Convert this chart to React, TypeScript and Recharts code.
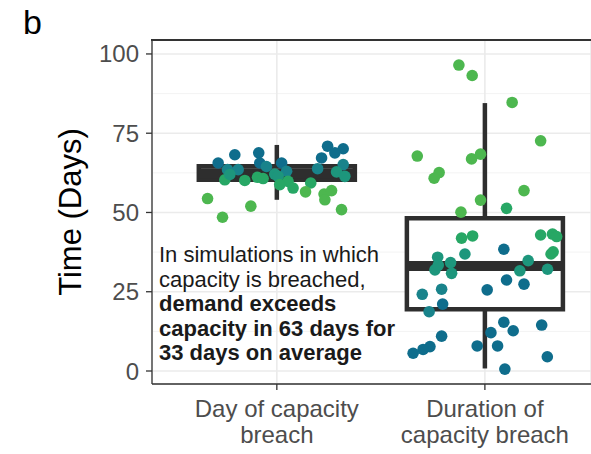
import React from 'react'
import {
  ComposedChart,
  Scatter,
  XAxis,
  YAxis,
  CartesianGrid,
  ReferenceArea,
  ReferenceLine,
  Label,
} from 'recharts'

const FONT = '"Liberation Sans", Arial, sans-serif'

// x positions: category index + horizontal jitter
const categories = ['Day of capacity\nbreach', 'Duration of\ncapacity breach']
const yTicks = [0, 25, 50, 75, 100]
const yMinor = [12.5, 37.5, 62.5, 87.5]

// day of breach, one point per simulation
const breachDay = [
  54.4, 48.5, 52, 68.2, 68.8, 65.6, 63.5, 63.5, 60.3, 60.1, 61.1, 60.7, 65.6, 64.5, 62.1, 62,
  70.9, 70.1, 68.8, 67.2, 63.8, 65.1, 62.8, 61.4, 65.6, 63, 61.4, 59.8, 58.8, 57.7, 59.3, 56.5,
  55.8, 56.9, 54, 50.9,
]
const breachDayJitter = [
  -0.333, -0.261, -0.125, -0.202, -0.087, -0.282, -0.237, -0.186, -0.25, -0.154, -0.093, -0.066,
  -0.082, -0.05, -0.01, -0.226, 0.244, 0.319, 0.279, 0.215, 0.196, 0.319, 0.287, 0.327, 0.023,
  0.047, 0.006, 0.054, 0.014, 0.078, 0.163, 0.138, 0.227, 0.263, 0.231, 0.311,
]
const breachDayGroup = [
  0, 0, 0, 4, 4, 4, 3, 3, 1, 1, 1, 1, 4, 3, 2, 2, 4, 4, 4, 4, 3, 3, 2, 2, 4, 3, 2, 1, 1, 1, 1, 0,
  0, 0, 0, 0,
]

// duration of breach, one point per simulation
const breachDuration = [
  96.5, 93.2, 84.7, 72.6, 67.8, 66.9, 68.4, 62.6, 60.8, 56.9, 53.9, 51.3, 50.1, 41.9, 42.6, 42.9,
  43.2, 42.4, 37.6, 36.9, 38.4, 36.9, 35.9, 31.9, 33.4, 34.2, 30.8, 34.8, 31.6, 32.1, 28.7, 27.4,
  25.6, 25.8, 24.2, 21.1, 18.7, 15.4, 12.7, 14.5, 12.1, 11, 7.9, 7.9, 7.7, 6.8, 5.6, 4.5, 0.6,
]
const breachDurationJitter = [
  -0.125, -0.061, 0.131, 0.268, -0.325, -0.064, -0.021, -0.22, -0.244, 0.188, -0.021, 0.104,
  -0.115, -0.112, -0.059, 0.268, 0.325, 0.345, 0.328, 0.318, 0.091, -0.096, -0.227, -0.24,
  -0.224, -0.165, -0.16, 0.208, 0.168, 0.301, 0.104, 0.188, 0.011, -0.208, -0.301, -0.203,
  -0.268, 0.091, 0.136, 0.273, 0.029, -0.208, -0.037, 0.061, -0.264, -0.297, -0.345, 0.3, 0.096,
]
const breachDurationGroup = [
  0, 0, 0, 0, 0, 0, 0, 0, 0, 0, 0, 1, 0, 1, 1, 1, 1, 1, 1, 1, 4, 2, 2, 2, 2, 2, 2, 2, 2, 2, 4, 4,
  4, 3, 3, 4, 3, 4, 4, 4, 4, 4, 4, 4, 4, 4, 4, 4, 4,
]

// box plot summaries per category
const boxLower = [60.3, 19.5]
const boxMedian = [62.4, 33.1]
const boxUpper = [64.6, 48.2]
const whiskerLow = [54.0, 0.8]
const whiskerHigh = [71.3, 84.5]

const groupColors = ['#4db74f', '#27a765', '#1d967c', '#19838b', '#0f6d8c']

const X_DOMAIN: [number, number] = [0.4, 2.51]
const Y_DOMAIN: [number, number] = [-4.1, 104.4]
const BOX_HALF = 0.375
const BOX_COLOR = '#2e2e2e'
const BORDER = '#333'

const dayPoints = breachDay.map((y, i) => ({ x: 1 + breachDayJitter[i], y, group: breachDayGroup[i] }))
const durationPoints = breachDuration.map((y, i) => ({
  x: 2 + breachDurationJitter[i],
  y,
  group: breachDurationGroup[i],
}))

const Dot = (props: any) => {
  const { cx, cy, payload } = props
  if (cx == null || cy == null) return null
  return <circle cx={cx} cy={cy} r={5.8} fill={groupColors[payload.group]} />
}

const CategoryTick = (props: any) => {
  const { x, y, payload } = props
  const lines = categories[payload.value - 1].split('\n')
  return (
    <text x={x} y={y} textAnchor="middle" fill="#4d4d4d" fontSize={24} fontFamily={FONT}>
      {lines.map((line, i) => (
        <tspan key={i} x={x} dy={i === 0 ? 25 : 26}>
          {line}
        </tspan>
      ))}
    </text>
  )
}

const YTitle = (props: any) => {
  const { viewBox } = props
  const cx = viewBox.x + 70
  const cy = viewBox.y + viewBox.height / 2
  return (
    <text
      x={cx}
      y={cy}
      transform={`rotate(-90 ${cx} ${cy})`}
      textAnchor="middle"
      dominantBaseline="central"
      fontSize={31}
      fontFamily={FONT}
      fill="#000"
    >
      Time (Days)
    </text>
  )
}

export default function App() {
  return (
    <div style={{ position: 'absolute', left: 0, top: 0, width: 591, height: 454, background: '#fff', overflow: 'hidden' }}>
      <ComposedChart width={591} height={454} margin={{ top: 40, right: 0, bottom: 0, left: 0 }}>
        <CartesianGrid
          xAxisId="x"
          yAxisId="y"
          vertical={false}
          horizontalValues={yMinor}
          stroke="#f3f3f3"
          strokeWidth={1}
        />
        <CartesianGrid xAxisId="x" yAxisId="y" stroke="#ebebeb" strokeWidth={1.6} />
        <XAxis
          xAxisId="x"
          type="number"
          dataKey="x"
          domain={X_DOMAIN}
          allowDataOverflow
          ticks={[1, 2]}
          interval={0}
          tick={<CategoryTick />}
          tickSize={6}
          tickLine={{ stroke: BORDER, strokeWidth: 1.3 }}
          axisLine={{ stroke: BORDER, strokeWidth: 1.3 }}
          height={70}
        />
        <YAxis
          yAxisId="y"
          type="number"
          dataKey="y"
          domain={Y_DOMAIN}
          allowDataOverflow
          ticks={yTicks}
          interval={0}
          width={152}
          tickSize={6}
          tickMargin={7}
          tick={{ fontSize: 24, fill: '#4d4d4d', fontFamily: FONT }}
          tickLine={{ stroke: BORDER, strokeWidth: 1.3 }}
          axisLine={{ stroke: BORDER, strokeWidth: 1.3 }}
        >
          <Label content={<YTitle />} />
        </YAxis>

        {[0, 1].map((i) => (
          <ReferenceLine
            key={`wl${i}`}
            xAxisId="x"
            yAxisId="y"
            segment={[
              { x: i + 1, y: whiskerLow[i] },
              { x: i + 1, y: boxLower[i] },
            ]}
            stroke={BOX_COLOR}
            strokeWidth={4.5}
          />
        ))}
        {[0, 1].map((i) => (
          <ReferenceLine
            key={`wh${i}`}
            xAxisId="x"
            yAxisId="y"
            segment={[
              { x: i + 1, y: boxUpper[i] },
              { x: i + 1, y: whiskerHigh[i] },
            ]}
            stroke={BOX_COLOR}
            strokeWidth={4.5}
          />
        ))}
        {[0, 1].map((i) => (
          <ReferenceArea
            key={`box${i}`}
            xAxisId="x"
            yAxisId="y"
            x1={i + 1 - BOX_HALF}
            x2={i + 1 + BOX_HALF}
            y1={boxLower[i]}
            y2={boxUpper[i]}
            fill="#fff"
            fillOpacity={1}
            stroke={BOX_COLOR}
            strokeWidth={4.5}
          />
        ))}
        {[0, 1].map((i) => (
          <ReferenceLine
            key={`med${i}`}
            xAxisId="x"
            yAxisId="y"
            segment={[
              { x: i + 1 - BOX_HALF, y: boxMedian[i] },
              { x: i + 1 + BOX_HALF, y: boxMedian[i] },
            ]}
            stroke={BOX_COLOR}
            strokeWidth={10}
          />
        ))}

        <Scatter xAxisId="x" yAxisId="y" data={dayPoints} shape={<Dot />} isAnimationActive={false} />
        <Scatter xAxisId="x" yAxisId="y" data={durationPoints} shape={<Dot />} isAnimationActive={false} />
      </ComposedChart>

      {/* top edge of the panel border */}
      <div style={{ position: 'absolute', left: 151, top: 39.4, width: 440, height: 1.3, background: BORDER }} />

      <div
        style={{
          position: 'absolute',
          left: 23,
          top: 3,
          fontFamily: FONT,
          fontSize: 34,
          lineHeight: '38px',
          color: '#000',
        }}
      >
        b
      </div>
      <div
        style={{
          position: 'absolute',
          left: 159,
          top: 243,
          fontFamily: FONT,
          fontSize: 22,
          lineHeight: '24.6px',
          color: '#1a1a1a',
          whiteSpace: 'nowrap',
        }}
      >
        <div>In simulations in which</div>
        <div>capacity is breached,</div>
        <div style={{ fontWeight: 'bold' }}>demand exceeds</div>
        <div style={{ fontWeight: 'bold' }}>capacity in 63 days for</div>
        <div style={{ fontWeight: 'bold' }}>33 days on average</div>
      </div>
    </div>
  )
}
